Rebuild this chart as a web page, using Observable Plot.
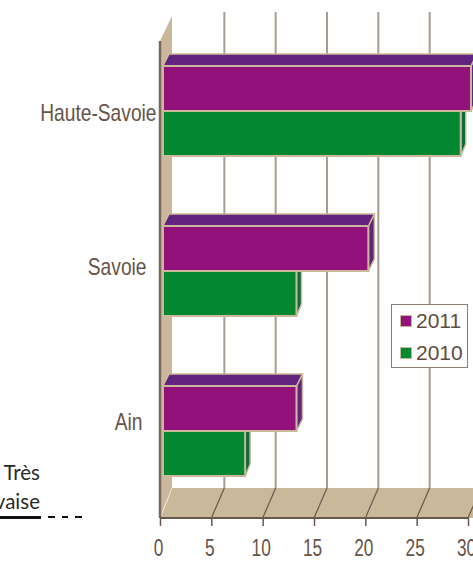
<!DOCTYPE html>
<html lang="fr">
<head>
<meta charset="utf-8">
<script src="https://cdn.jsdelivr.net/npm/d3@7"></script>
<script src="https://cdn.jsdelivr.net/npm/@observablehq/plot@0.6"></script>
<style>
  html, body { margin: 0; padding: 0; background: #fff; overflow: hidden; }
  #page { position: relative; width: 473px; height: 563px; overflow: hidden; }
  #chart svg { display: block; }
  .note { position: absolute; font-family: Lato, sans-serif; font-size: 20.5px; font-weight: 400; color: #2a2a2a; white-space: nowrap; line-height: 20px; }
  .rule { position: absolute; background: #111; height: 3px; top: 516px; }
  #legend { position: absolute; left: 391px; top: 304px; width: 75px; height: 62px; background: #fff;
            border: 1.5px solid #8d7e74; box-sizing: content-box; font-family: "Liberation Sans", sans-serif;
            font-size: 21px; color: #5e4c42; }
  #legend div { position: absolute; left: 24px; line-height: 24px; }
  #legend i { position: absolute; left: -16px; top: 6px; width: 10px; height: 10px; border: 1.5px solid #c9b99a; }
</style>
</head>
<body>
<div id="page">
  <div id="chart"></div>
  <div class="note" style="right:433px;top:462px">Très</div>
  <div class="note" style="right:433px;top:491px">mauvaise</div>
  <div class="rule" style="left:0;width:41px"></div>
  <div class="rule" style="left:48px;width:7px;height:2px"></div>
  <div class="rule" style="left:62px;width:6px;height:2px"></div>
  <div class="rule" style="left:75px;width:7px;height:2px"></div>
  <div id="legend"></div>
</div>
<script>
// Number of departments per year
const categories = ["Haute-Savoie", "Savoie", "Ain"];
const values2011 = [30, 20, 13];
const values2010 = [29, 13, 8];
const years = ["2011", "2010"];
const xTicks = [0, 5, 10, 15, 20, 25, 30];

const colors = { 2011: "#93117b", 2010: "#038831" };
const shades = { 2011: "#62247f", 2010: "#0b6a36" };
const tan = "#c9b99a";
const ink = "#6a584d";

// Pseudo-3D extrusion of the chart box and of the bars
const boxDx = 13, boxDy = 30;
const barDx = { 2011: 6, 2010: 5 }, barDy = 12, barShift = 3, half = 45;

const rows2011 = categories.map((c, i) => ({ c, v: values2011[i] }));
const rows2010 = categories.map((c, i) => ({ c, v: values2010[i] }));

function polygon(g, points, fill, stroke, width) {
  g.append("polygon")
    .attr("points", points.map((p) => p.join(",")).join(" "))
    .attr("fill", fill)
    .attr("stroke", stroke || "none")
    .attr("stroke-width", width || 0)
    .attr("stroke-linejoin", "round");
}

// Back wall, floor and the gridlines that run across them
function box(index, { x }, values, { height, width, marginBottom }) {
  const g = d3.create("svg:g");
  const base = height - marginBottom + 7;
  const back = base - boxDy;
  const top = 41;
  polygon(g, [[x(0), base], [x(0), top], [x(0) + boxDx - 1, top - 25], [x(0) + boxDx - 1, back]], tan);
  polygon(g, [[x(0), base], [x(0) + boxDx - 1, back], [width + 20, back], [width + 20 - boxDx, base]], tan);
  g.append("line").attr("x1", x(0) + 1).attr("y1", base - 2).attr("x2", x(0) + boxDx - 1).attr("y2", back)
    .attr("stroke", "#efe9dc").attr("stroke-width", 1);
  g.append("line").attr("x1", x(0)).attr("y1", top).attr("x2", x(0)).attr("y2", base)
    .attr("stroke", "#7a685d").attr("stroke-width", 2.5);
  for (const t of xTicks.slice(1)) {
    g.append("line").attr("x1", x(t) + boxDx).attr("x2", x(t) + boxDx).attr("y1", 12).attr("y2", back)
      .attr("stroke", "#a89c92").attr("stroke-width", 2);
    g.append("line").attr("x1", x(t) + boxDx).attr("x2", x(t)).attr("y1", back).attr("y2", base)
      .attr("stroke", ink).attr("stroke-width", 1.2);
  }
  return g.node();
}

// Top and side faces of the bars, placed with the same scales as the fronts
function faces(rows, year, withTop) {
  const dx = barDx[year];
  return (index, { x, y }) => {
    const g = d3.create("svg:g");
    for (const { c, v } of rows) {
      const y0 = y(c) + (year === "2011" ? 0 : half);
      const y1 = y0 + half;
      const xl = x(0) + barShift;
      const xr = x(v) + barShift;
      polygon(g, [[xr, y0], [xr + dx, y0 - barDy], [xr + dx, y1 - barDy], [xr, y1]], shades[year], tan, 1.5);
      if (withTop) polygon(g, [[xl, y0], [xr, y0], [xr + dx, y0 - barDy], [xl + dx, y0 - barDy]], shades[year], tan, 1.5);
    }
    return g.node();
  };
}

// Narrows the rendered labels horizontally
const condensed = (k) => (index, scales, values, dimensions, context, next) => {
  const g = next(index, scales, values, dimensions, context);
  for (const t of g.querySelectorAll("text")) {
    const prior = t.getAttribute("transform") || "";
    t.setAttribute("transform", `${prior} scale(${k},1)`);
  }
  return g;
};

const labelStyle = { fontFamily: "'Liberation Sans Narrow', 'Liberation Sans', sans-serif", fontSize: 24, fill: "#66544a" };
// Category labels sit slightly off the bar centres and keep their own right edges
const labelDx = [-4, -14, -18];
const labelDy = [2, -4, -9];

const plot = Plot.plot({
  width: 473,
  height: 563,
  marginLeft: 160,
  marginRight: 5,
  marginTop: 31,
  marginBottom: 52,
  x: { domain: [0, 30] },
  y: { domain: categories, paddingInner: 0.4375, paddingOuter: 0.21875, axis: null },
  marks: [
    box,
    faces(rows2011, "2011", true),
    faces(rows2010, "2010", false),
    Plot.barX(rows2010, { x: "v", y: "c", insetTop: half, dx: barShift, fill: colors[2010], stroke: tan, strokeWidth: 2 }),
    Plot.barX(rows2011, { x: "v", y: "c", insetBottom: half, dx: barShift, fill: colors[2011], stroke: tan, strokeWidth: 2 }),
    Plot.axisX({ ticks: xTicks, tickSize: 8, dy: 7, stroke: ink, strokeWidth: 1.5, text: null, label: null }),
    (index, { x }, values, { height, marginBottom }) =>
      d3.create("svg:line").attr("x1", x(0)).attr("x2", x(30))
        .attr("y1", height - marginBottom + 7).attr("y2", height - marginBottom + 7)
        .attr("stroke", ink).attr("stroke-width", 2).node(),
    Plot.text(xTicks, { x: (d) => d, frameAnchor: "bottom", dy: 44, dx: -2, text: (d) => String(d), ...labelStyle, render: condensed(0.72) }),
    ...categories.map((c, i) =>
      Plot.text([c], { x: () => 0, y: (d) => d, textAnchor: "end", dx: labelDx[i], dy: labelDy[i], ...labelStyle, render: condensed(0.8) })
    )
  ]
});
document.getElementById("chart").append(plot);

// Legend box for the two years
const legend = document.getElementById("legend");
years.forEach((year, i) => {
  const row = document.createElement("div");
  row.style.top = (4 + i * 32) + "px";
  row.textContent = year;
  const swatch = document.createElement("i");
  swatch.style.background = colors[year];
  row.append(swatch);
  legend.append(row);
});
</script>
</body>
</html>
